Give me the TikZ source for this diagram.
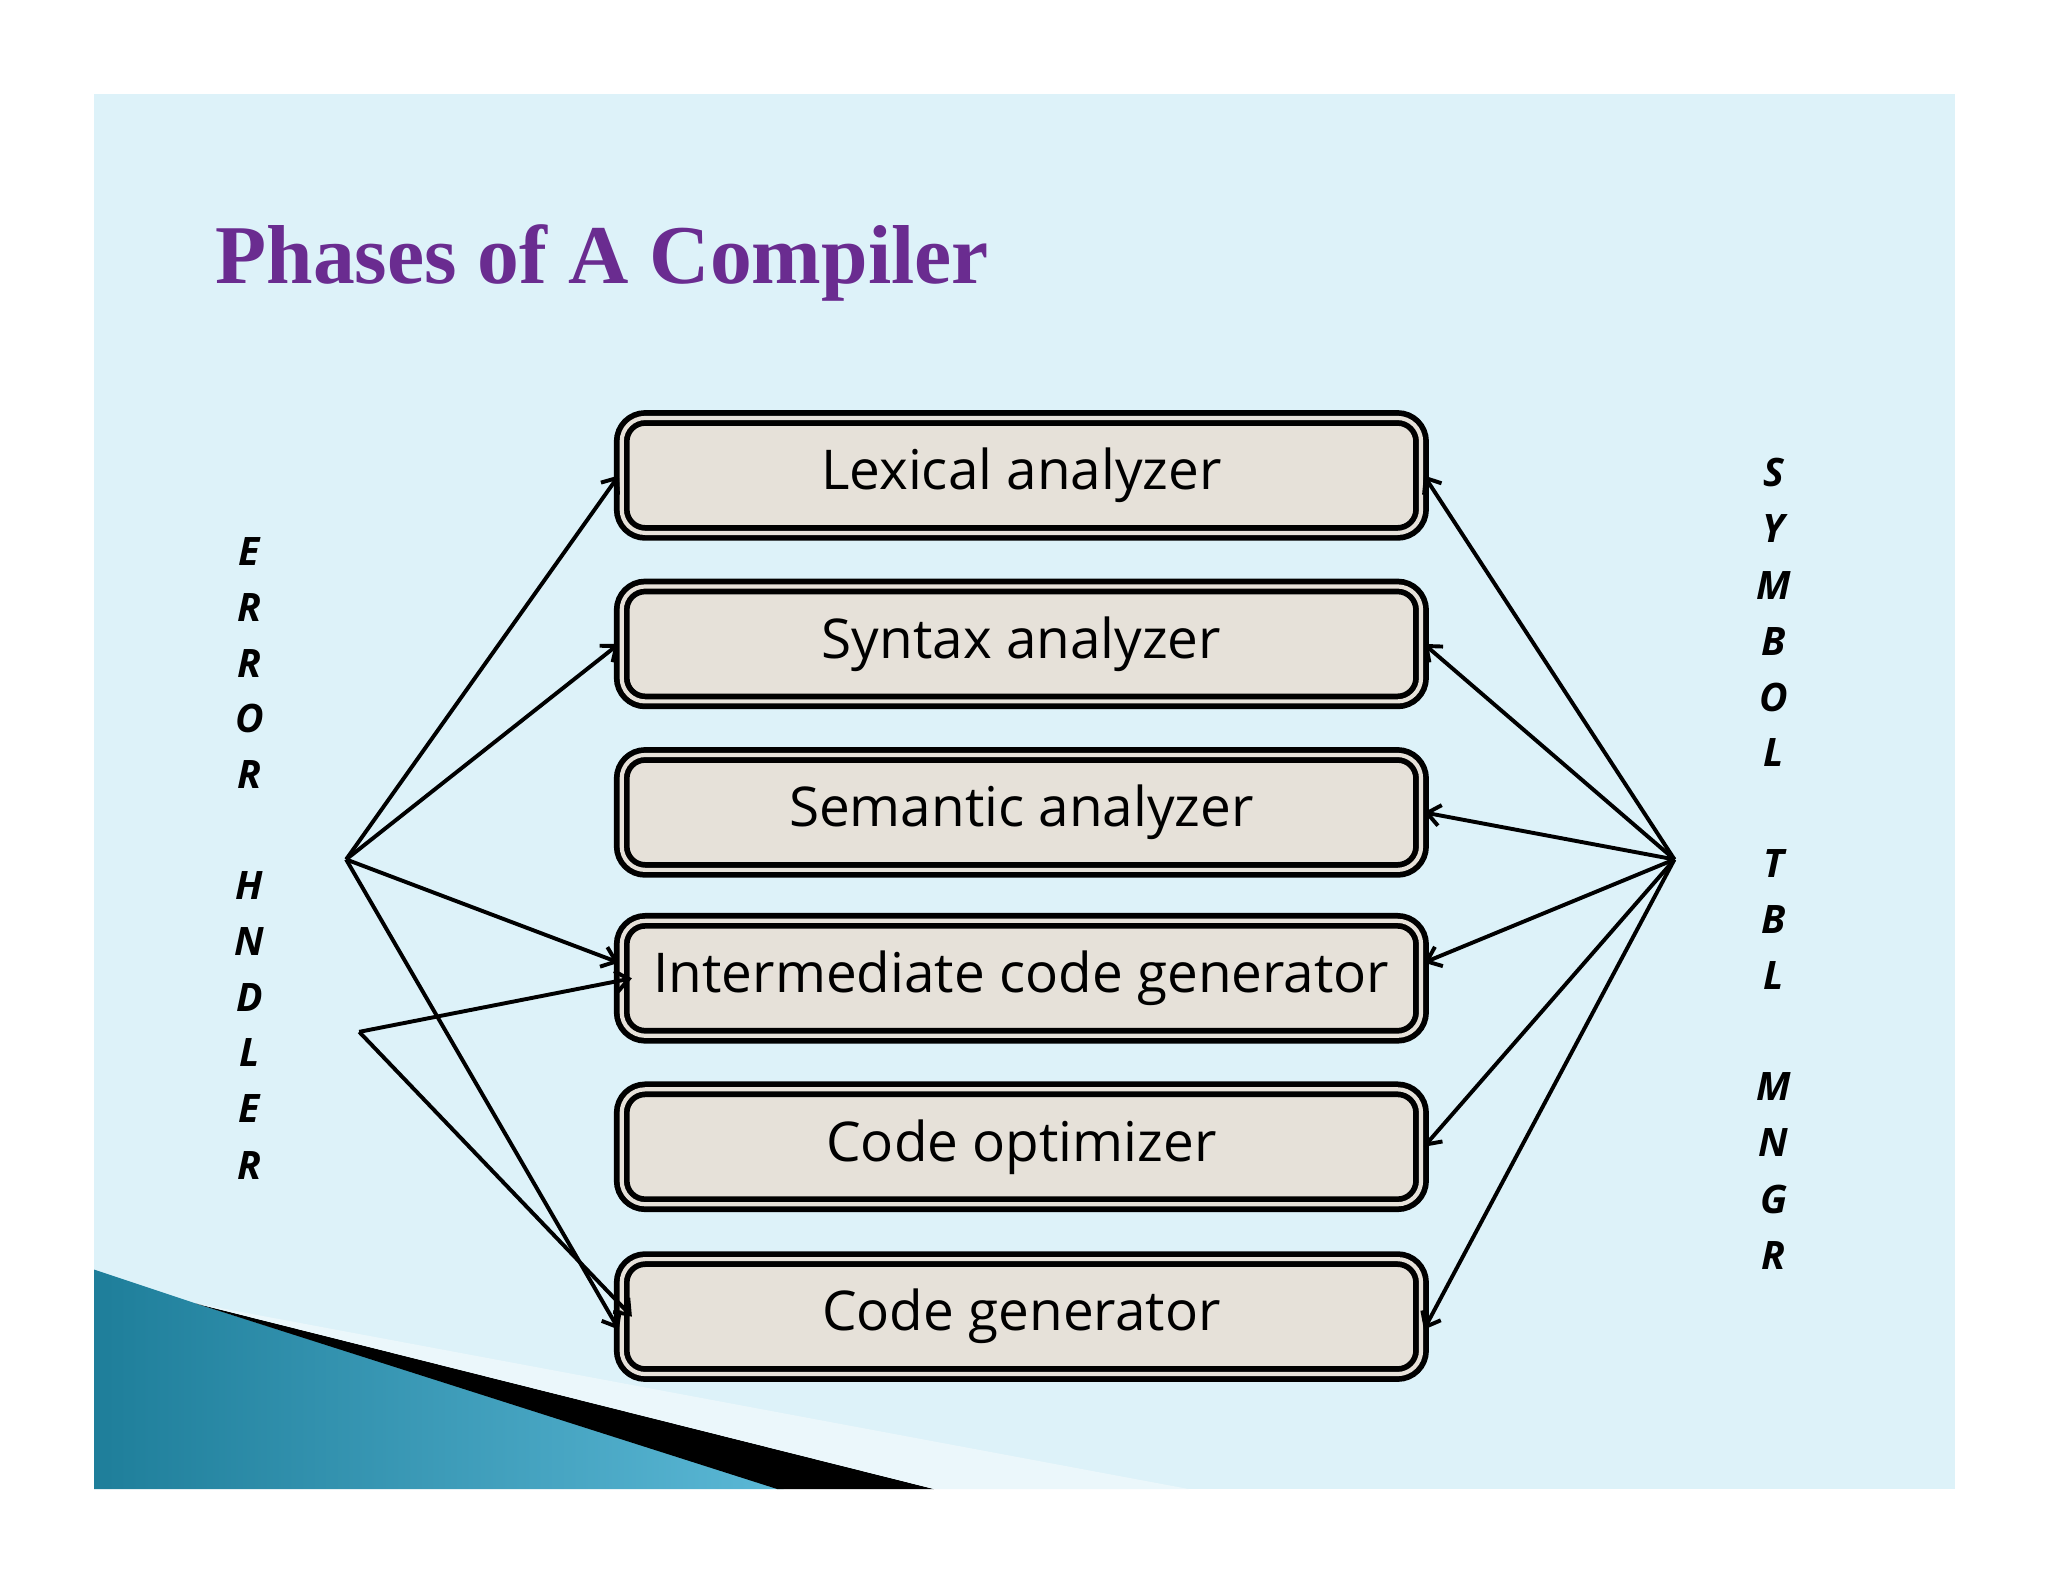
\documentclass[tikz,border=0pt]{standalone}
\usepackage{fontspec}
\setmainfont{Open Sans}
\newfontfamily\titlefont{Liberation Serif}
\usetikzlibrary{arrows.meta}
\definecolor{slide}{HTML}{DDF2F9}
\definecolor{boxfill}{HTML}{E6E1D9}
\definecolor{titlec}{HTML}{6A2C90}
\definecolor{teal1}{HTML}{1E7E9A}
\definecolor{teal2}{HTML}{5BB8D6}
\tikzset{
  phase/.style={draw=black, line width=2.2pt, double=boxfill, double distance=1.6pt, rounded corners=9pt,
    fill=boxfill, minimum width=306pt, minimum height=44pt, font=\fontsize{21}{24}\selectfont, inner sep=0pt},
  letter/.style={font=\bfseries\itshape\fontsize{15}{18}\selectfont},
  arr/.style={line width=1.5pt, -{Straight Barb[length=5pt,width=8pt]}}
}
\begin{document}
\begin{tikzpicture}[x=0.5pt,y=-0.5pt]
\useasboundingbox (0,0) rectangle (1568,1211);
\fill[white] (0,0) rectangle (1568,1211);
\fill[slide] (72,72) rectangle (1497,1140);
% decoration
\shade[left color=teal1, right color=teal2] (72,972) -- (150,998) -- (600,1140) -- (72,1140) -- cycle;
\fill[black] (150,998) -- (715,1140) -- (595,1140) -- cycle;
\fill[white!40!slide] (150,998) -- (910,1140) -- (715,1140) -- cycle;
\node[anchor=base west, font=\titlefont\bfseries\fontsize{32}{36}\selectfont, text=titlec] (title) at (158,217) {Phases of A Compiler};
% boxes
\node[phase] (lex) at (782,364) {Lexical analyzer};
\node[phase] (syn) at (782,493) {Syntax analyzer};
\node[phase] (sem) at (782,622) {Semantic analyzer};
\node[phase] (icg) at (782,749) {Intermediate code generator};
\node[phase] (opt) at (782,878) {Code optimizer};
\node[phase] (gen) at (782,1008) {Code generator};
% letters
\foreach \l/\y [count=\i] in {E/422,R/465,R/508,O/550,R/593,H/678,N/721,D/764,L/806,E/849,R/892}
  \node[letter] (e\i) at (191,\y) {\l};
\foreach \l/\y [count=\i] in {S/362,Y/405,M/448,B/491,O/534,L/576,T/661,B/704,L/747,M/832,N/875,G/918,R/961}
  \node[letter] (s\i) at (1358,\y) {\l};
% hubs
\coordinate (eh) at (265,658);
\coordinate (eh2) at (275,790);
\coordinate (sh) at (1282,658);
\draw[arr] (eh) -- (lex.west);
\draw[arr] (eh) -- (syn.west);
\draw[arr] (eh) -- ([yshift=6pt]icg.west);
\draw[arr] (eh) -- ([yshift=-5pt]gen.west);
\draw[arr] (eh2) -- ([xshift=5pt]icg.west);
\draw[arr] (eh2) -- ([xshift=5pt]gen.west);
\draw[arr] (sh) -- (lex.east);
\draw[arr] (sh) -- (syn.east);
\draw[arr] (sh) -- (sem.east);
\draw[arr] (sh) -- ([yshift=6pt]icg.east);
\draw[arr] (sh) -- (opt.east);
\draw[arr] (sh) -- ([yshift=-5pt]gen.east);
\end{tikzpicture}
\end{document}
